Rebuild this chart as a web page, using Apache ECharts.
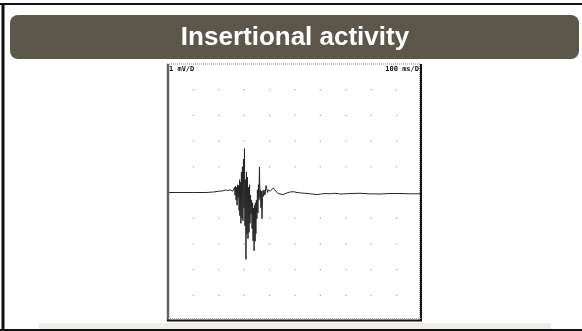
<!DOCTYPE html>
<html>
<head>
<meta charset="utf-8">
<script src="https://cdn.jsdelivr.net/npm/echarts@6/dist/echarts.min.js"></script>
<style>
html,body{margin:0;padding:0;background:#fff;}
#c{width:582px;height:331px;}
</style>
</head>
<body>
<div id="c"></div>
<script>
// ---- data ----
var titleText = "Insertional activity";
var voltLabel = "1 mV/D";
var timeLabel = "100 ms/D";
var xTicks = [100, 200, 300, 400, 500, 600, 700, 800, 900];
var yTicks = [-4, -3, -2, -1, 1, 2, 3, 4];
var timeMs = [0, 50, 100, 150, 180, 200, 215, 225, 235, 240, 245, 250, 255,
  260, 262, 264, 266, 268, 270, 272, 274, 276, 278, 280, 282, 283, 285, 287, 289, 291, 293, 295, 297, 299,
  301, 303, 305, 307, 309, 311, 313, 315, 317, 319, 321, 323, 325, 327, 329, 331, 333, 335, 337, 339,
  341, 343, 344, 346, 348, 350, 352, 354, 356, 358, 360, 362, 364, 366, 368, 370, 372, 374, 376, 378,
  382, 386, 389, 392, 394,
  402, 408, 415, 420, 425, 432, 441, 454, 465, 480, 495, 508, 525, 540, 560, 587, 600, 618, 640, 657,
  680, 697, 720, 756, 790, 835, 870, 913, 950, 1000];
var voltMv = [0, 0, 0, 0, 0.02, 0.05, 0.06, 0.1, 0.08, 0.12, 0.1, 0.15, 0.05,
  0.05, 0.2, -0.1, 0.25, -0.3, 0.2, -0.5, 0.3, -0.2, 0.27, -0.7, 0.5, -0.9, 0.4, -1.2, 0.8, -1.0, 1.0, -1.1, 1.3, -0.6,
  1.71, -1.3, 0.5, -2.6, 0.8, -1.6, 0.6, -1.8, 0.2, -1.55, 0.3, -1.2, -0.1, -0.83, -0.3, -1.4, -0.4, -1.88, -0.6, -2.27,
  -0.5, -1.9, -0.4, -1.6, -0.3, -1.02, 0.1, -0.8, 0.3, -0.3, 0.99, -0.2, 0.1, -0.6, 0.05, -1.02, -0.2, 0.08, -0.15, 0.1,
  -0.1, 0.27, 0.34, 0.0, 0.1,
  0.05, 0.12, 0.18, 0.1, 0.03, -0.03, -0.06, -0.08, -0.03, 0.02, 0.03, 0.0, -0.02, -0.03, -0.05, -0.08, -0.06, -0.04, -0.05, -0.03,
  -0.06, -0.05, -0.04, -0.03, -0.05, -0.06, -0.04, -0.04, -0.05, -0.05];

// ---- build ----
var signal = timeMs.map(function (t, i) { return [t, voltMv[i]]; });
var dots = [];
xTicks.forEach(function (x) { yTicks.forEach(function (y) { dots.push([x, y]); }); });

var chart = echarts.init(document.getElementById('c'), null, {renderer: 'canvas'});
chart.setOption({
  animation: false,
  backgroundColor: '#ffffff',
  grid: {left: 168, top: 64, width: 254, height: 257},
  xAxis: {type: 'value', min: 0, max: 1000, interval: 100, show: false},
  yAxis: {type: 'value', min: -5, max: 5, interval: 1, show: false},
  graphic: [
    // outer frame
    {type: 'line', shape: {x1: 0, y1: 4, x2: 582, y2: 4}, style: {stroke: '#111', lineWidth: 2}, z: 10},
    {type: 'line', shape: {x1: 3, y1: 3, x2: 3, y2: 331}, style: {stroke: '#111', lineWidth: 3}, z: 10},
    {type: 'line', shape: {x1: 0, y1: 330, x2: 582, y2: 330}, style: {stroke: '#111', lineWidth: 2}, z: 10},
    // title bar
    {type: 'rect', shape: {x: 10, y: 15, width: 569, height: 44, r: 8}, style: {fill: '#5b574b'}, z: 5},
    {type: 'text', x: 295, y: 38, style: {text: titleText, fill: '#ffffff', font: 'bold 26px "Liberation Sans", Arial, sans-serif', textAlign: 'center', textVerticalAlign: 'middle'}, z: 6},
    // bottom beige band
    {type: 'rect', shape: {x: 39, y: 323, width: 512, height: 6}, style: {fill: '#efede5'}, z: 4},
    // chart box borders
    {type: 'line', shape: {x1: 167, y1: 64, x2: 421, y2: 64}, style: {stroke: '#888', lineWidth: 1, lineDash: [1, 1]}, z: 10},
    {type: 'line', shape: {x1: 168, y1: 64, x2: 168, y2: 321}, style: {stroke: '#666', lineWidth: 2.5}, z: 10},
    {type: 'line', shape: {x1: 167, y1: 320.5, x2: 422, y2: 320.5}, style: {stroke: '#111', lineWidth: 2}, z: 10},
    {type: 'line', shape: {x1: 421, y1: 64, x2: 421, y2: 321}, style: {stroke: '#111', lineWidth: 2}, z: 10},
    {type: 'line', shape: {x1: 419.5, y1: 64, x2: 419.5, y2: 320}, style: {stroke: '#aaa', lineWidth: 1, lineDash: [1, 1]}, z: 10},
    {type: 'line', shape: {x1: 168, y1: 318.5, x2: 421, y2: 318.5}, style: {stroke: '#aaa', lineWidth: 1, lineDash: [1, 1]}, z: 10},
    // scale labels
    {type: 'text', x: 169, y: 66, style: {text: voltLabel, fill: '#111', font: 'bold 7px "DejaVu Sans Mono", monospace', textAlign: 'left', textVerticalAlign: 'top'}, z: 10},
    {type: 'text', x: 419, y: 66, style: {text: timeLabel, fill: '#111', font: 'bold 7px "DejaVu Sans Mono", monospace', textAlign: 'right', textVerticalAlign: 'top'}, z: 10}
  ],
  series: [
    {type: 'scatter', data: dots, symbol: 'rect', symbolSize: 1.3, itemStyle: {color: '#999'}, silent: true, z: 1},
    {type: 'line', data: signal, showSymbol: false, symbol: 'none', lineStyle: {color: '#262626', width: 1}, silent: true, z: 2}
  ]
});
</script>
</body>
</html>
